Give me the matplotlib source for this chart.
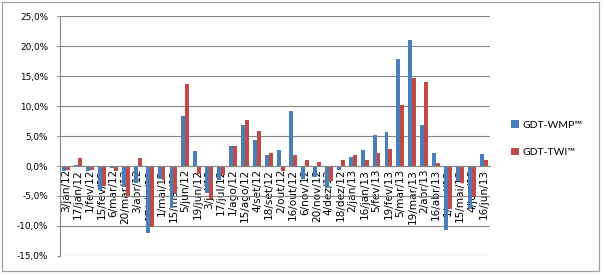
import numpy as np
import matplotlib
matplotlib.use("Agg")
import matplotlib.pyplot as plt
from matplotlib.patches import Rectangle
from matplotlib.ticker import FuncFormatter

plt.rcParams['font.family'] = ['DejaVu Sans']

# leilões GDT (datas)
datas = ["3/jan/12", "17/jan/12", "1/fev/12", "15/fev/12", "6/mar/12", "20/mar/12",
         "3/abr/12", "17/abr/12", "1/mai/12", "15/mai/12", "5/jun/12", "19/jun/12",
         "3/jul/12", "17/jul/12", "1/ago/12", "15/ago/12", "4/set/12", "18/set/12",
         "2/out/12", "16/out/12", "6/nov/12", "20/nov/12", "4/dez/12", "18/dez/12",
         "2/jan/13", "16/jan/13", "5/fev/13", "19/fev/13", "5/mar/13", "19/mar/13",
         "2/abr/13", "16/abr/13", "1/mai/13", "15/mai/13", "4/jun/13", "16/jun/13"]

# variação % por leilão
wmp = [-0.8, 0.2, -0.8, -4.0, -0.3, -3.5,
       -2.8, -11.1, -2.2, -7.0, 8.4, 2.5,
       -4.5, -2.3, 3.4, 6.9, 4.3, 1.9,
       2.7, 9.1, -2.1, -1.8, -3.7, -0.7,
       1.5, 2.7, 5.2, 5.7, 17.8, 21.0,
       6.8, 2.2, -10.7, -2.5, -7.2, 2.0]
twi = [-0.6, 1.4, -0.7, -3.3, -0.9, -5.0,
       1.4, -10.2, -2.3, -4.5, 13.6, -1.4,
       -5.5, -1.5, 3.4, 7.7, 5.9, 2.2,
       -0.9, 1.8, 1.0, 0.6, -2.5, 1.0,
       1.9, 1.0, 2.2, 2.8, 10.2, 14.7,
       14.0, 0.5, -7.2, -2.8, -5.2, 1.0]

azul = "#4A7EBB"
vermelho = "#BE4B48"
cinza = "#878787"

fig = plt.figure(figsize=(6.04, 2.75), dpi=100)
ax = fig.add_axes([0.0993, 0.0691, 0.712, 0.8727])

x = np.arange(len(datas))
w = 0.33
ax.bar(x - w / 2, wmp, width=w, color=azul, label="GDT-WMP™", zorder=3)
ax.bar(x + w / 2, twi, width=w, color=vermelho, label="GDT-TWI™", zorder=3)

ax.set_xlim(-0.5, len(datas) - 0.5)
ax.set_ylim(-15, 25)
ax.set_yticks(np.arange(-15, 26, 5))
ax.yaxis.set_major_formatter(FuncFormatter(lambda v, p: ("%.1f%%" % v).replace(".", ",")))
ax.grid(axis="y", color=cinza, linewidth=0.8, zorder=0)

for s in ["top", "right"]:
    ax.spines[s].set_visible(False)
ax.spines["left"].set_color(cinza)
ax.spines["bottom"].set_color(cinza)
ax.spines["bottom"].set_position(("data", 0))
ax.spines["bottom"].set_zorder(4)

ax.set_xticks(x)
ax.set_xticklabels(datas, rotation=90, fontsize=7.6, va="top", ha="center")
ax.tick_params(axis="x", length=0, pad=2)
ax.tick_params(axis="y", length=2.5, color=cinza, labelsize=6.4, pad=6)

fig.patches.append(Rectangle((2 / 604, 4 / 275), 597 / 604, 269 / 275, transform=fig.transFigure,
                             fill=False, edgecolor="#A0A0A0", linewidth=0.9))

fig.legend(loc="center left", bbox_to_anchor=(502 / 604, 0.495), frameon=False,
           prop={"family": ["Lato", "DejaVu Sans"], "size": 7.5},
           handlelength=0.7, handleheight=0.7, handletextpad=0.4,
           labelspacing=1.75)

fig.savefig("out.png", dpi=100)
